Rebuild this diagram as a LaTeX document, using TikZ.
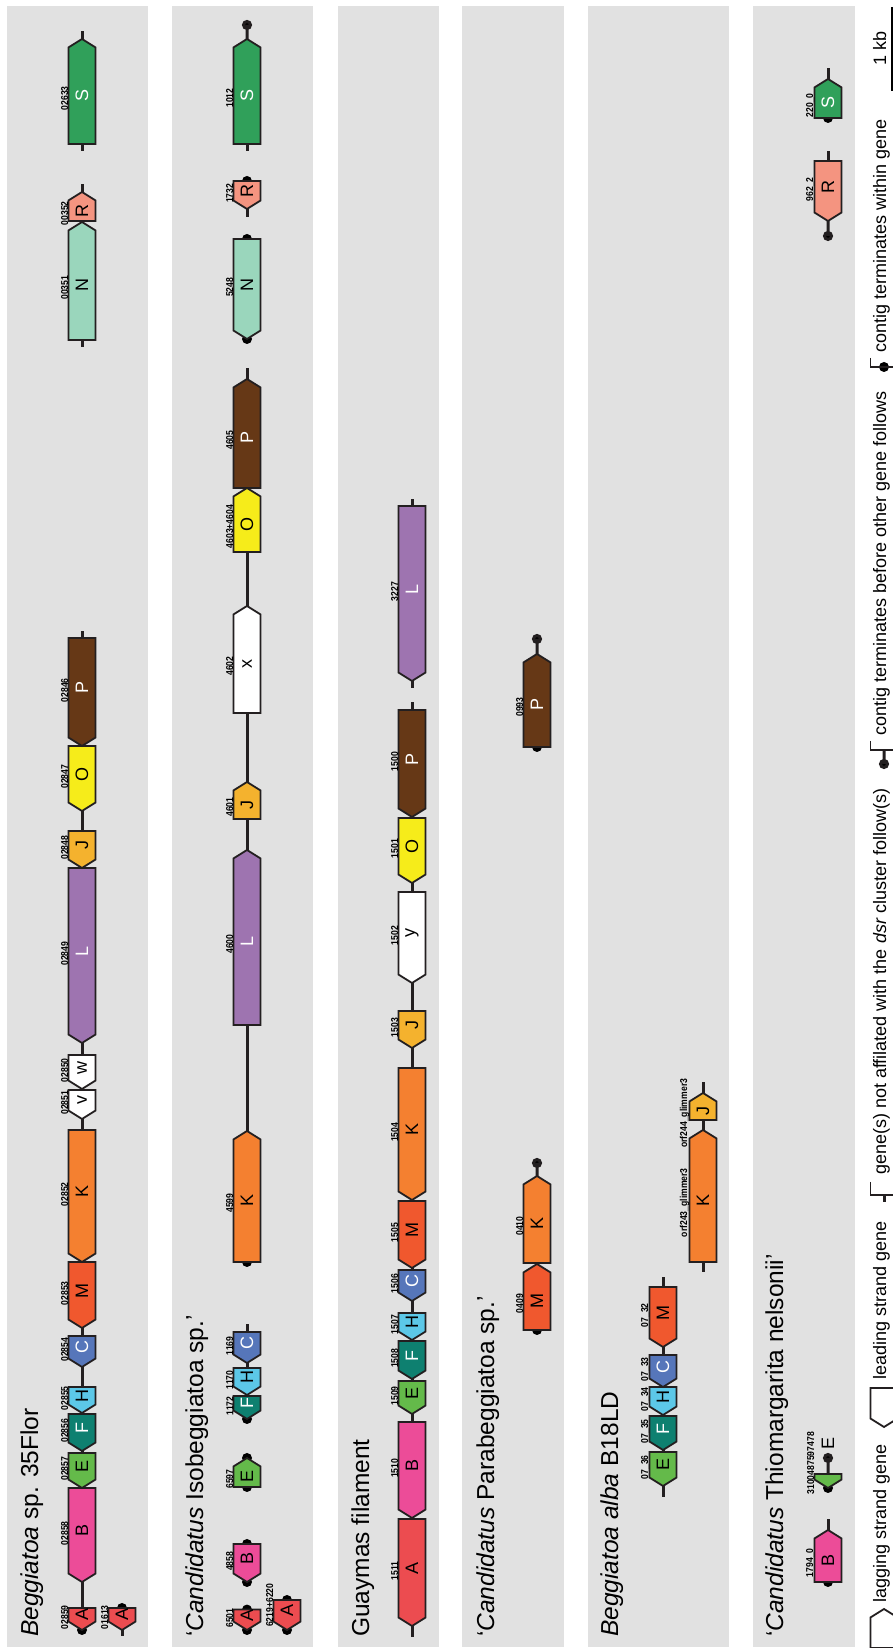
\documentclass[tikz,border=0pt]{standalone}
\usepackage{fontspec}
\setmainfont{Liberation Sans}
\newfontfamily\locusfont[FakeStretch=0.86]{Liberation Sans}
\usetikzlibrary{shapes.symbols}

\pgfdeclarelayer{back}
\pgfsetlayers{back,main}

\definecolor{cA}{RGB}{236,76,80}
\definecolor{cB}{RGB}{236,76,152}
\definecolor{cC}{RGB}{86,118,186}
\definecolor{cE}{RGB}{100,186,74}
\definecolor{cF}{RGB}{14,128,112}
\definecolor{cH}{RGB}{92,200,232}
\definecolor{cJ}{RGB}{244,178,46}
\definecolor{cK}{RGB}{244,128,48}
\definecolor{cL}{RGB}{158,116,176}
\definecolor{cM}{RGB}{240,88,46}
\definecolor{cN}{RGB}{154,214,188}
\definecolor{cO}{RGB}{246,236,26}
\definecolor{cP}{RGB}{102,56,22}
\definecolor{cR}{RGB}{244,148,128}
\definecolor{cS}{RGB}{48,160,90}
\definecolor{bandgray}{RGB}{225,225,225}
\definecolor{outline}{RGB}{35,31,32}

\begin{document}
\begin{tikzpicture}[
  x=1pt, y=1pt, rotate=90, transform shape,
  gene/.style   = {signal, draw=outline, line width=1.8pt, minimum height=27,
                   inner sep=0pt, outer sep=0pt, signal pointer angle=116,
                   anchor=west, font=\fontsize{18}{18}\selectfont},
  fwd/.style    = {gene, signal to=east},
  rev/.style    = {gene, signal to=west},
  wtxt/.style   = {text=white},
  locus/.style  = {font=\locusfont\bfseries\fontsize{10}{10}\selectfont,
                   inner sep=0pt, anchor=south, text=black},
  label distance=2.5pt,
  bb/.style     = {line width=3pt, draw=outline},
  title/.style  = {anchor=base west, inner sep=0pt,
                   font=\fontsize{24.5}{28}\selectfont},
  key/.style    = {anchor=base west, inner sep=0pt,
                   font=\fontsize{18}{20}\selectfont},
]
\useasboundingbox (0,0) rectangle (1648,-893);

\begin{pgfonlayer}{back}
\foreach \t/\b in {7/148,172/313,338/439,462/564,588/729,753/855}
  \fill[bandgray] (1,-\t) rectangle (1642,-\b);
\end{pgfonlayer}

% Beggiatoa sp. 35Flor
\node[title] (t35) at (11,-38) {\textit{Beggiatoa} sp. 35Flor};
\node[rev, fill=cA, minimum width=22, label={[locus]above:02859}] (b35A) at (18,-82) {A};
\node[rev, fill=cA, minimum width=22, label={[locus]above:01613}] (b35A2) at (18,-122) {A};
\node[rev, fill=cB, minimum width=94, label={[locus]above:02858}] (b35B) at (66,-82) {B};
\node[rev, fill=cE, minimum width=35, label={[locus]above:02857}] (b35E) at (160,-82) {E};
\node[rev, fill=cF, wtxt, minimum width=37, label={[locus]above:02856}] (b35F) at (197,-82) {F};
\node[rev, fill=cH, minimum width=26, label={[locus]above:02855}] (b35H) at (235,-82) {H};
\node[rev, fill=cC, wtxt, minimum width=31, label={[locus]above:02854}] (b35C) at (281,-82) {C};
\node[rev, fill=cM, minimum width=66, label={[locus]above:02853}] (b35M) at (320,-82) {M};
\node[rev, fill=cK, minimum width=132, label={[locus]above:02852}] (b35K) at (386,-82) {K};
\node[rev, fill=white, minimum width=29, label={[locus]above:02851}] (b35V) at (529,-82) {v};
\node[rev, fill=white, minimum width=34, label={[locus]above:02850}] (b35W) at (559,-82) {w};
\node[rev, fill=cL, wtxt, minimum width=175, label={[locus]above:02849}] (b35L) at (605,-82) {L};
\node[rev, fill=cJ, minimum width=37, label={[locus]above:02848}] (b35J) at (780,-82) {J};
\node[rev, fill=cO, minimum width=65, label={[locus]above:02847}] (b35O) at (837,-82) {O};
\node[rev, fill=cP, wtxt, minimum width=108, label={[locus]above:02846}] (b35P) at (902,-82) {P};
\node[fwd, fill=cN, minimum width=118, label={[locus]above:00351}] (b35N) at (1308,-82) {N};
\node[fwd, fill=cR, minimum width=29, label={[locus]above:00352}] (b35R) at (1427,-82) {R};
\node[fwd, fill=cS, wtxt, minimum width=105, label={[locus]above:02633}] (b35S) at (1504,-82) {S};

% Candidatus Isobeggiatoa sp.
\node[title] (tiso) at (11,-203) {‘\textit{Candidatus} Isobeggiatoa sp.’};
\node[rev, fill=cA, minimum width=20, label={[locus]above:6501}] (isoA) at (18,-247) {A};
\node[rev, fill=cA, minimum width=30, label={[locus, xshift=8pt]above:6219+6220}] (isoA2) at (18,-287) {A};
\node[rev, fill=cB, minimum width=38, label={[locus]above:4858}] (isoB) at (66,-247) {B};
\node[fwd, fill=cE, minimum width=29, label={[locus]above:6597}] (isoE) at (161,-247) {E};
\node[rev, fill=cF, wtxt, minimum width=23, label={[locus]above:1172}] (isoF) at (229,-247) {F};
\node[rev, fill=cH, minimum width=27, label={[locus]above:1170}] (isoH) at (253,-247) {H};
\node[rev, fill=cC, wtxt, minimum width=31, label={[locus]above:1169}] (isoC) at (285,-247) {C};
\node[fwd, fill=cK, minimum width=131, label={[locus]above:4599}] (isoK) at (386,-247) {K};
\node[fwd, fill=cL, wtxt, minimum width=175, label={[locus]above:4600}] (isoL) at (623,-247) {L};
\node[fwd, fill=cJ, minimum width=37, label={[locus]above:4601}] (isoJ) at (829,-247) {J};
\node[fwd, fill=white, minimum width=107, label={[locus]above:4602}] (isoX) at (935,-247) {x};
\node[fwd, fill=cO, minimum width=64, label={[locus]above:4603+4604}] (isoO) at (1096,-247) {O};
\node[fwd, fill=cP, wtxt, minimum width=109, label={[locus]above:4605}] (isoP) at (1160,-247) {P};
\node[rev, fill=cN, minimum width=100, label={[locus]above:5248}] (isoN) at (1309,-247) {N};
\node[rev, fill=cR, minimum width=28, label={[locus]above:1732}] (isoR) at (1439,-247) {R};
\node[fwd, fill=cS, wtxt, minimum width=105, label={[locus]above:1012}] (isoS) at (1504,-247) {S};

% Guaymas filament
\node[title] (tgua) at (11,-369) {Guaymas filament};
\node[rev, fill=cA, minimum width=107, label={[locus]above:1511}] (guaA) at (22,-412) {A};
\node[rev, fill=cB, minimum width=96, label={[locus]above:1510}] (guaB) at (130,-412) {B};
\node[rev, fill=cE, minimum width=33, label={[locus]above:1509}] (guaE) at (234,-412) {E};
\node[rev, fill=cF, wtxt, minimum width=38, label={[locus]above:1508}] (guaF) at (269,-412) {F};
\node[rev, fill=cH, minimum width=27, label={[locus]above:1507}] (guaH) at (308,-412) {H};
\node[rev, fill=cC, wtxt, minimum width=31, label={[locus]above:1506}] (guaC) at (347,-412) {C};
\node[rev, fill=cM, minimum width=67, label={[locus]above:1505}] (guaM) at (380,-412) {M};
\node[rev, fill=cK, minimum width=132, label={[locus]above:1504}] (guaK) at (448,-412) {K};
\node[rev, fill=cJ, minimum width=37, label={[locus]above:1503}] (guaJ) at (600,-412) {J};
\node[rev, fill=white, minimum width=91, label={[locus]above:1502}] (guaY) at (665,-412) {y};
\node[rev, fill=cO, minimum width=65, label={[locus]above:1501}] (guaO) at (765,-412) {O};
\node[rev, fill=cP, wtxt, minimum width=107, label={[locus]above:1500}] (guaP) at (831,-412) {P};
\node[rev, fill=cL, wtxt, minimum width=175, label={[locus]above:3227}] (guaL) at (967,-412) {L};

% Candidatus Parabeggiatoa sp.
\node[title] (tpara) at (11,-494) {‘\textit{Candidatus} Parabeggiatoa sp.’};
\node[fwd, fill=cM, minimum width=66, label={[locus]above:0409}] (paraM) at (318,-537) {M};
\node[fwd, fill=cK, minimum width=87, label={[locus]above:0410}] (paraK) at (385,-537) {K};
\node[fwd, fill=cP, wtxt, minimum width=93, label={[locus]above:0993}] (paraP) at (901,-537) {P};

% Beggiatoa alba B18LD
\node[title] (talba) at (11,-618) {\textit{Beggiatoa alba} B18LD};
\node[rev, fill=cE, minimum width=34, label={[locus]above:07\_36}] (albaE) at (162,-663) {E};
\node[rev, fill=cF, wtxt, minimum width=34, label={[locus]above:07\_35}] (albaF) at (198,-663) {F};
\node[rev, fill=cH, minimum width=28, label={[locus]above:07\_34}] (albaH) at (233,-663) {H};
\node[rev, fill=cC, wtxt, minimum width=32, label={[locus]above:07\_33}] (albaC) at (261,-663) {C};
\node[rev, fill=cM, minimum width=60, label={[locus]above:07\_32}] (albaM) at (301,-663) {M};
\node[fwd, fill=cK, minimum width=132, label={[locus]above:orf243\_glimmer3}] (albaK) at (386,-703) {K};
\node[fwd, fill=cJ, minimum width=27, label={[locus]above:orf244\_glimmer3}] (albaJ) at (528,-703) {J};

% Candidatus Thiomargarita nelsonii
\node[title] (tthio) at (11,-783) {‘\textit{Candidatus} Thiomargarita nelsonii’};
\node[fwd, fill=cB, minimum width=52, label={[locus]above:1794\_0}] (thioB) at (66,-828) {B};
\node[rev, fill=cE, minimum width=14, label={[locus, xshift=16pt]above:3100487597478}] (thioE) at (160,-828) {};
\node[anchor=center, font=\fontsize{18}{18}\selectfont] (thioEtxt) at (205,-828) {E};
\node[rev, fill=cR, minimum width=60, label={[locus]above:962\_2}] (thioR) at (1427,-828) {R};
\node[fwd, fill=cS, wtxt, minimum width=39, label={[locus]above:220\_0}] (thioS) at (1530,-828) {S};

% backbones, stubs and contig ends
\begin{pgfonlayer}{back}
\draw[bb] (b35A.east) -- (b35B.west);
\draw[bb] (b35B.east) -- (b35E.west);
\draw[bb] (b35E.east) -- (b35F.west);
\draw[bb] (b35F.east) -- (b35H.west);
\draw[bb] (b35H.east) -- (b35C.west);
\draw[bb] (b35C.east) -- (b35M.west);
\draw[bb] (b35M.east) -- (b35K.west);
\draw[bb] (b35K.east) -- (b35V.west);
\draw[bb] (b35V.east) -- (b35W.west);
\draw[bb] (b35W.east) -- (b35L.west);
\draw[bb] (b35L.east) -- (b35J.west);
\draw[bb] (b35J.east) -- (b35O.west);
\draw[bb] (b35O.east) -- (b35P.west);
\draw[bb] (b35P.east) -- ++(7,0);
\draw[bb] (b35N.west) -- ++(-7,0);
\draw[bb] (b35N.east) -- (b35R.west);
\draw[bb] (b35R.east) -- ++(8,0);
\draw[bb] (b35S.west) -- ++(-7,0);
\draw[bb] (b35S.east) -- ++(8,0);
\draw[bb] (b35A2.west) -- ++(-6,0);
\fill[black] (b35A.west) circle[radius=5];
\fill[black] (b35A2.east) circle[radius=5];

\fill[black] (isoA.west) circle[radius=5];
\fill[black] (isoA.east) circle[radius=5];
\fill[black] (isoA2.west) circle[radius=5];
\fill[black] (isoA2.east) circle[radius=5];
\fill[black] (isoB.west) circle[radius=5];
\fill[black] (isoB.east) circle[radius=5];
\fill[black] (isoE.west) circle[radius=5];
\fill[black] (isoE.east) circle[radius=5];
\fill[black] (isoF.west) circle[radius=5];
\draw[bb] (isoF.east) -- (isoH.west);
\draw[bb] (isoH.east) -- (isoC.west);
\draw[bb] (isoC.east) -- ++(8,0);
\fill[black] (isoK.west) circle[radius=5];
\draw[bb] (isoK.east) -- (isoL.west);
\draw[bb] (isoL.east) -- (isoJ.west);
\draw[bb] (isoJ.east) -- (isoX.west);
\draw[bb] (isoX.east) -- (isoO.west);
\draw[bb] (isoO.east) -- (isoP.west);
\draw[bb] (isoP.east) -- ++(11,0);
\fill[black] (isoN.west) circle[radius=5];
\fill[black] (isoN.east) circle[radius=5];
\draw[bb] (isoR.west) -- ++(-8,0);
\fill[black] (isoR.east) circle[radius=5];
\draw[bb] (isoS.west) -- ++(-7,0);
\filldraw[bb, fill=black] (isoS.east) -- ++(14,0) circle[radius=3.5];

\draw[bb] (guaA.west) -- ++(-11,0);
\draw[bb] (guaA.east) -- (guaB.west);
\draw[bb] (guaB.east) -- (guaE.west);
\draw[bb] (guaE.east) -- (guaF.west);
\draw[bb] (guaF.east) -- (guaH.west);
\draw[bb] (guaH.east) -- (guaC.west);
\draw[bb] (guaC.east) -- (guaM.west);
\draw[bb] (guaM.east) -- (guaK.west);
\draw[bb] (guaK.east) -- (guaJ.west);
\draw[bb] (guaJ.east) -- (guaY.west);
\draw[bb] (guaY.east) -- (guaO.west);
\draw[bb] (guaO.east) -- (guaP.west);
\draw[bb] (guaP.east) -- ++(8,0);
\draw[bb] (guaL.west) -- ++(-7,0);
\draw[bb] (guaL.east) -- ++(7,0);

\fill[black] (paraM.west) circle[radius=5];
\draw[bb] (paraM.east) -- (paraK.west);
\filldraw[bb, fill=black] (paraK.east) -- ++(13,0) circle[radius=3.5];
\fill[black] (paraP.west) circle[radius=5];
\filldraw[bb, fill=black] (paraP.east) -- ++(15,0) circle[radius=3.5];

\draw[bb] (albaE.west) -- ++(-11,0);
\draw[bb] (albaE.east) -- (albaF.west);
\draw[bb] (albaF.east) -- (albaH.west);
\draw[bb] (albaH.east) -- (albaC.west);
\draw[bb] (albaC.east) -- (albaM.west);
\draw[bb] (albaM.east) -- ++(10,0);
\draw[bb] (albaK.west) -- ++(-10,0);
\draw[bb] (albaK.east) -- (albaJ.west);
\draw[bb] (albaJ.east) -- ++(11,0);

\fill[black] (thioB.west) circle[radius=5];
\draw[bb] (thioB.east) -- ++(11,0);
\fill[black] (thioE.west) circle[radius=5];
\filldraw[bb, fill=black] (thioE.east) -- ++(16,0) circle[radius=3.5];
\filldraw[bb, fill=black] (thioR.west) -- ++(-15,0) circle[radius=3.5];
\draw[bb] (thioR.east) -- ++(10,0);
\fill[black] (thioS.west) circle[radius=5];
\draw[bb] (thioS.east) -- ++(11,0);
\end{pgfonlayer}

% key
\node[fwd, fill=white, minimum width=39] (keyLag) at (0,-884) {};
\node[key] (keyLagT) at (45,-886) {lagging strand gene};
\node[rev, fill=white, minimum width=39] (keyLead) at (221,-884) {};
\node[key] (keyLeadT) at (268,-886) {leading strand gene};
\draw[bb] (446,-884) -- (453,-884);
\draw[outline, line width=1.8pt] (466,-870.5) -- (453,-870.5) -- (453,-898);
\node[key] (keyOffT) at (473,-886) {gene(s) not affilated with the \textit{dsr} cluster follow(s)};
\filldraw[bb, fill=black] (898,-884) -- (884,-884) circle[radius=3.5];
\draw[outline, line width=1.8pt] (907,-870.5) -- (898,-870.5) -- (898,-898);
\node[key] (keyEndT) at (912,-886) {contig terminates before other gene follows};
\fill[black] (1281,-884) circle[radius=5];
\draw[outline, line width=1.8pt] (1290,-870.5) -- (1281,-870.5) -- (1281,-898);
\node[key] (keyCutT) at (1295,-886) {contig terminates within gene};
\draw[line width=2pt] (1557,-891.5) -- (1641,-891.5);
\node[key, anchor=base] (keyKb) at (1599,-886) {1 kb};
\end{tikzpicture}
\end{document}
